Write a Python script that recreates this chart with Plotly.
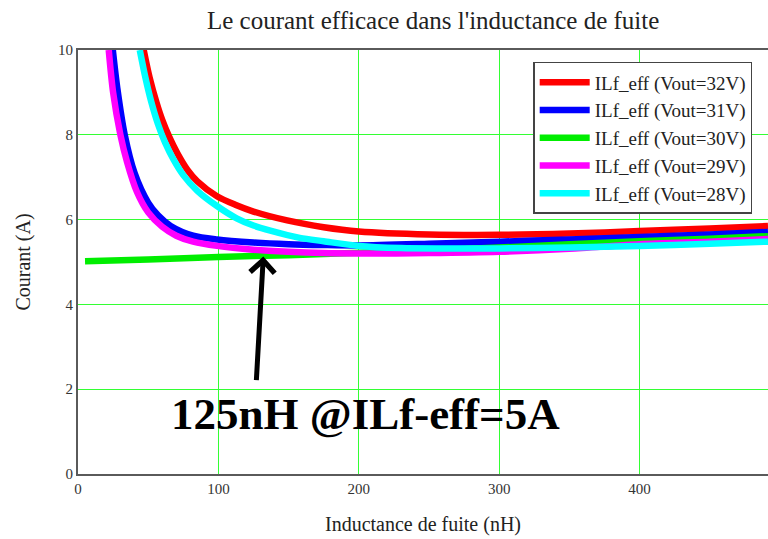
import plotly.graph_objects as go

# ---- data ----
series_names = ["ILf_eff (Vout=32V)", "ILf_eff (Vout=31V)", "ILf_eff (Vout=30V)",
                "ILf_eff (Vout=29V)", "ILf_eff (Vout=28V)"]
series_colors = ["#ff0000", "#0000ff", "#00ee00", "#ff00ff", "#00ffff"]

x_32 = [46.8, 51, 56, 60, 65, 71, 78, 85, 99, 112, 125, 149, 175, 200, 250, 300, 350, 400, 450, 491.5]
y_32 = [10, 9.35, 8.75, 8.35, 7.95, 7.55, 7.17, 6.9, 6.55, 6.35, 6.19, 5.98, 5.82, 5.72, 5.65, 5.64, 5.67, 5.73, 5.79, 5.85]

x_31 = [24.8, 28, 33.3, 40.4, 50, 57, 66, 82, 99, 125, 150, 175, 200, 250, 300, 350, 400, 450, 491.5]
y_31 = [10, 9.1, 8.0, 7.09, 6.4, 6.1, 5.85, 5.62, 5.53, 5.46, 5.42, 5.40, 5.39, 5.43, 5.48, 5.53, 5.59, 5.65, 5.71]

x_30 = [5, 50, 100, 150, 200, 250, 300, 350, 400, 450, 491.5]
y_30 = [5.02, 5.06, 5.12, 5.16, 5.22, 5.28, 5.34, 5.42, 5.49, 5.55, 5.61]

x_29 = [21.9, 25, 30.2, 35, 42, 50, 60, 70, 82, 99, 125, 150, 175, 200, 250, 300, 350, 400, 450, 491.5]
y_29 = [10, 9.0, 8.0, 7.35, 6.65, 6.17, 5.83, 5.62, 5.48, 5.38, 5.29, 5.24, 5.21, 5.20, 5.21, 5.24, 5.31, 5.42, 5.48, 5.54]

x_28 = [44, 48, 52, 57, 62, 68, 75, 85, 99, 113, 125, 137, 158, 175, 200, 230, 260, 300, 350, 400, 450, 491.5]
y_28 = [10, 9.35, 8.8, 8.25, 7.82, 7.42, 7.05, 6.68, 6.32, 6.03, 5.86, 5.74, 5.57, 5.49, 5.38, 5.33, 5.32, 5.32, 5.34, 5.38, 5.43, 5.48]

xs = [x_32, x_31, x_30, x_29, x_28]
ys = [y_32, y_31, y_30, y_29, y_28]

x_ticks = [0, 100, 200, 300, 400]
y_ticks = [0, 2, 4, 6, 8, 10]

title_text = "Le courant efficace dans l'inductance de fuite"
x_title = "Inductance de fuite (nH)"
y_title = "Courant (A)"
note_text = "125nH @ILf-eff=5A"
arrow_tip = (132, 5.13)
arrow_tail = (127, 2.18)
note_pos = (204.6, 1.42)

SERIF = "Liberation Serif, Times New Roman, serif"
GRID = "#33ff33"
AXIS = "#5a5a5a"

fig = go.Figure()
for name, col, xv, yv in zip(series_names, series_colors, xs, ys):
    fig.add_trace(go.Scatter(x=xv, y=yv, name=name, mode="lines",
                             line=dict(color=col, width=6.5, shape="spline", smoothing=0.8)))

fig.add_annotation(x=arrow_tip[0], y=arrow_tip[1], ax=arrow_tail[0], ay=arrow_tail[1],
                   xref="x", yref="y", axref="x", ayref="y", text="",
                   showarrow=True, arrowhead=4, arrowwidth=5, arrowsize=0.95,
                   arrowcolor="black")
fig.add_annotation(x=note_pos[0], y=note_pos[1], xref="x", yref="y", text="<b>" + note_text + "</b>",
                   showarrow=False, font=dict(family=SERIF, size=45, color="black"))

fig.update_layout(
    width=768, height=539,
    margin=dict(l=77.5, r=0, t=50, b=65),
    paper_bgcolor="white", plot_bgcolor="white",
    title=dict(text=title_text, x=0.564, xanchor="center", y=1 - 20 / 539, yanchor="middle",
               yref="container", font=dict(family=SERIF, size=25, color="#222")),
    showlegend=True,
    legend=dict(x=0.6597, y=0.9717, xanchor="left", yanchor="top",
                bgcolor="white", bordercolor="#444", borderwidth=1.5,
                font=dict(family=SERIF, size=19, color="#222"),
                itemwidth=50, tracegroupgap=0),
    font=dict(family=SERIF),
)
fig.update_xaxes(range=[0, 491.5], tickvals=x_ticks, ticktext=[str(v) for v in x_ticks],
                 showgrid=True, gridcolor=GRID, gridwidth=1, zeroline=False,
                 showline=True, linecolor=AXIS, linewidth=2, mirror=True,
                 ticks="", tickfont=dict(family=SERIF, size=15, color="#333"),
                 title=dict(text=x_title, standoff=21, font=dict(family=SERIF, size=20, color="#222")))
fig.update_yaxes(range=[0, 10], tickvals=y_ticks, ticktext=[str(v) for v in y_ticks],
                 showgrid=True, gridcolor=GRID, gridwidth=1, zeroline=False,
                 showline=True, linecolor=AXIS, linewidth=2, mirror=False,
                 ticks="", tickfont=dict(family=SERIF, size=15, color="#333"),
                 title=dict(text=y_title, standoff=22, font=dict(family=SERIF, size=20, color="#222")))

fig.write_html("out.html", config={"displayModeBar": False},
               post_script="document.body.style.margin='0';document.documentElement.style.overflow='hidden';")
